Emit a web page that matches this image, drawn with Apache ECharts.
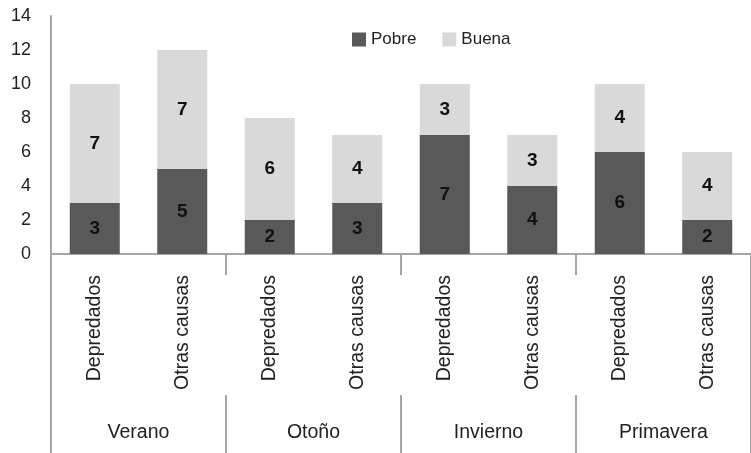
<!DOCTYPE html>
<html>
<head>
<meta charset="utf-8">
<script src="https://cdn.jsdelivr.net/npm/echarts@6/dist/echarts.min.js"></script>
<style>
html,body{margin:0;padding:0;background:#fff;}
#chart{width:751px;height:453px;}
</style>
</head>
<body>
<div id="chart"></div>
<script>
// datos
var causas = ['Depredados','Otras causas','Depredados','Otras causas','Depredados','Otras causas','Depredados','Otras causas'];
var estaciones = ['Verano','Otoño','Invierno','Primavera'];
var pobre = [3,5,2,3,7,4,6,2];
var buena = [7,7,6,4,3,3,4,4];

var gris = '#a6a6a6';
var fuente = 'Liberation Sans, Arial, sans-serif';

var chart = echarts.init(document.getElementById('chart'));
chart.setOption({
    animation:false,
    textStyle:{fontFamily:fuente},
    grid:{left:51,right:-4,top:16,bottom:199,containLabel:false},
    legend:{
        top:26,
        left:347,
        itemWidth:14,
        itemHeight:14,
        itemGap:26,
        icon:'rect',
        textStyle:{fontSize:17,color:'#222',fontFamily:fuente},
        data:['Pobre','Buena']
    },
    yAxis:{
        type:'value',
        min:0,
        max:14,
        interval:2,
        splitLine:{show:false},
        axisTick:{show:false},
        axisLine:{show:true,lineStyle:{color:gris,width:2}},
        axisLabel:{fontSize:18,color:'#222',margin:20,fontFamily:fuente}
    },
    xAxis:[
        {
            type:'category',
            data:causas,
            position:'bottom',
            axisLine:{lineStyle:{color:gris,width:2}},
            axisTick:{show:false},
            axisLabel:{rotate:90,interval:0,margin:21,fontSize:19.5,color:'#222',fontFamily:fuente}
        },
        {
            // separadores cortos bajo el eje
            type:'category',
            data:estaciones,
            position:'bottom',
            offset:0,
            axisLine:{show:false},
            axisTick:{show:true,length:21,interval:0,lineStyle:{color:gris,width:2}},
            axisLabel:{show:false}
        },
        {
            // estaciones
            type:'category',
            data:estaciones,
            position:'bottom',
            offset:141,
            axisLine:{show:false},
            axisTick:{show:true,length:58,interval:0,lineStyle:{color:gris,width:2}},
            axisLabel:{interval:0,margin:28,fontSize:19.5,color:'#222',fontFamily:fuente}
        },
        {
            // linea izquierda hasta abajo
            type:'category',
            data:[''],
            position:'bottom',
            offset:0,
            axisLine:{show:false},
            axisTick:{show:true,length:199,lineStyle:{color:gris,width:2}},
            axisLabel:{show:false}
        }
    ],
    series:[
        {
            name:'Pobre',
            type:'bar',
            stack:'total',
            xAxisIndex:0,
            barWidth:50,
            itemStyle:{color:'#595959'},
            label:{show:true,position:'inside',color:'#111',fontWeight:'bold',fontSize:19,fontFamily:fuente},
            data:pobre
        },
        {
            name:'Buena',
            type:'bar',
            stack:'total',
            xAxisIndex:0,
            barWidth:50,
            itemStyle:{color:'#d9d9d9'},
            label:{show:true,position:'inside',color:'#111',fontWeight:'bold',fontSize:19,fontFamily:fuente},
            data:buena
        }
    ]
});
</script>
</body>
</html>
